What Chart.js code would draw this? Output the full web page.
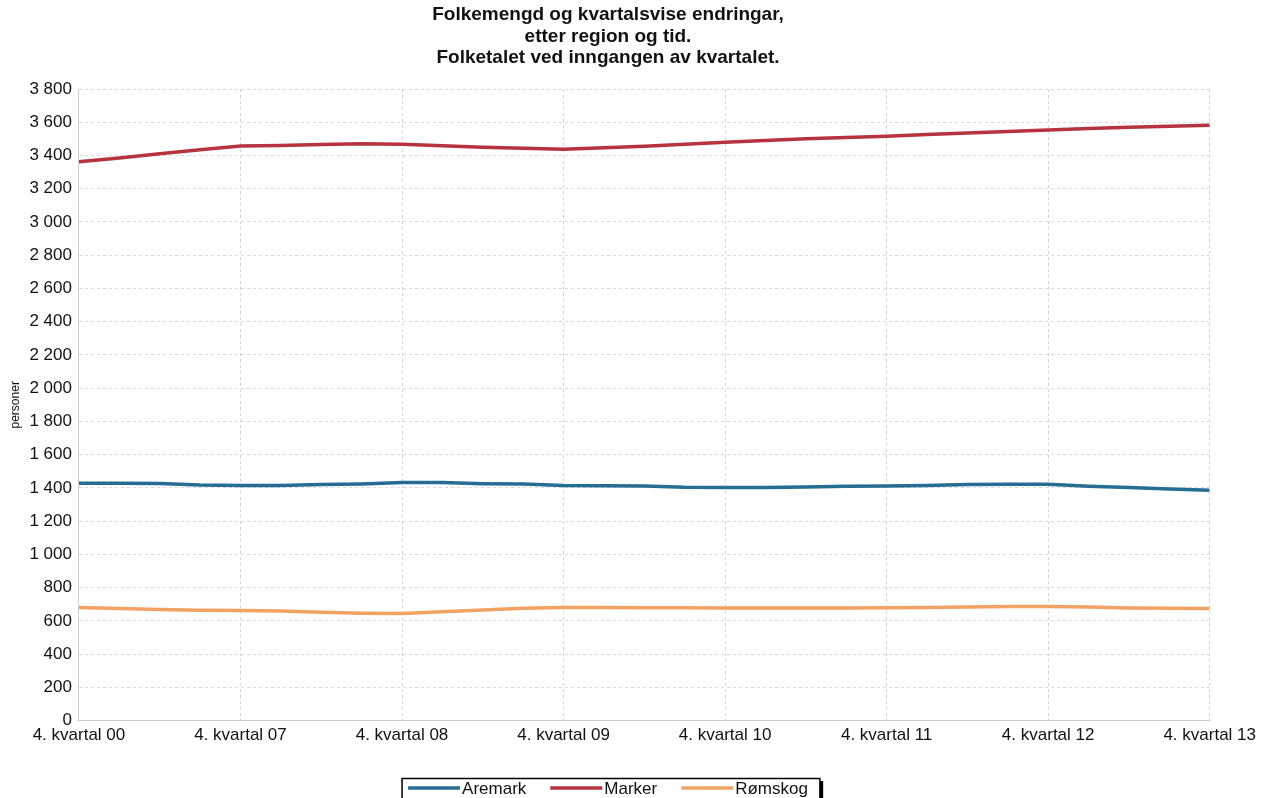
<!DOCTYPE html>
<html>
<head>
<meta charset="utf-8">
<script src="https://cdn.jsdelivr.net/npm/chart.js@4/dist/chart.umd.min.js"></script>
<style>
  html, body { margin: 0; padding: 0; background: #fff; }
  #wrap { width: 1261px; height: 798px; }
</style>
</head>
<body>
<div id="wrap"><canvas id="line-chart"></canvas></div>
<script>
// quarters: 4. kvartal 06 .. 4. kvartal 13 (first label printed as "00" in the source)
var quarters = [
  "4. kvartal 00", "1. kvartal 07", "2. kvartal 07", "3. kvartal 07",
  "4. kvartal 07", "1. kvartal 08", "2. kvartal 08", "3. kvartal 08",
  "4. kvartal 08", "1. kvartal 09", "2. kvartal 09", "3. kvartal 09",
  "4. kvartal 09", "1. kvartal 10", "2. kvartal 10", "3. kvartal 10",
  "4. kvartal 10", "1. kvartal 11", "2. kvartal 11", "3. kvartal 11",
  "4. kvartal 11", "1. kvartal 12", "2. kvartal 12", "3. kvartal 12",
  "4. kvartal 12", "1. kvartal 13", "2. kvartal 13", "3. kvartal 13",
  "4. kvartal 13"
];

var aremark = [1428, 1428, 1426, 1417, 1415, 1415, 1420, 1424, 1432, 1432,
  1425, 1423, 1415, 1413, 1412, 1404, 1402, 1402, 1406, 1410,
  1412, 1414, 1420, 1422, 1422, 1410, 1403, 1394, 1386];

var marker = [3362, 3385, 3410, 3435, 3457, 3460, 3466, 3470, 3467, 3458,
  3450, 3444, 3438, 3446, 3456, 3468, 3480, 3490, 3500, 3508,
  3516, 3526, 3536, 3545, 3553, 3562, 3570, 3576, 3582];

var romskog = [680, 675, 668, 664, 662, 660, 652, 646, 645, 655,
  666, 676, 680, 680, 679, 679, 678, 678, 678, 678,
  679, 680, 684, 686, 686, 684, 678, 676, 674];

var titleLines = ["Folkemengd og kvartalsvise endringar,", "etter region og tid.", "Folketalet ved inngangen av kvartalet."];

var fontFam = "'Liberation Sans', Arial, sans-serif";

function spaced(v) {
  return String(v).replace(/\B(?=(\d{3})+(?!\d))/g, " ");
}

function pts(arr) {
  return arr.map(function(v, i) { return { x: i, y: v }; });
}

// title and boxed legend, drawn like the old SSB chart
var decor = {
  id: "decor",
  afterDraw: function(chart) {
    var ctx = chart.ctx;
    var cx = 608;
    ctx.save();
    ctx.fillStyle = "#111";
    ctx.textAlign = "center";
    ctx.textBaseline = "middle";
    ctx.font = "bold 19px " + fontFam;
    titleLines.forEach(function(t, i) {
      ctx.fillText(t, cx, 15 + i * 21.5);
    });

    // legend
    var lineLen = 52, gap = 2, itemGap = 24;
    ctx.font = "17px " + fontFam;
    var items = chart.data.datasets.map(function(ds) {
      return { label: ds.label, color: ds.borderColor, w: lineLen + gap + ctx.measureText(ds.label).width };
    });
    var total = items.reduce(function(s, it) { return s + it.w; }, 0) + itemGap * (items.length - 1);
    var x = cx - total / 2;
    var y = 788;
    var boxL = x - 6, boxR = x + total + 12;
    ctx.strokeStyle = "#000";
    ctx.lineWidth = 1.5;
    ctx.strokeRect(boxL, 778.5, boxR - boxL, 24);
    ctx.lineWidth = 3.5;
    ctx.beginPath();
    ctx.moveTo(boxR + 1.5, 781);
    ctx.lineTo(boxR + 1.5, 798);
    ctx.stroke();
    ctx.textAlign = "left";
    items.forEach(function(it) {
      ctx.strokeStyle = it.color;
      ctx.lineWidth = 3.5;
      ctx.beginPath();
      ctx.moveTo(x, y);
      ctx.lineTo(x + lineLen, y);
      ctx.stroke();
      ctx.fillStyle = "#111";
      ctx.fillText(it.label, x + lineLen + gap, y + 1);
      x += it.w + itemGap;
    });
    ctx.restore();
  }
};

new Chart(document.getElementById("line-chart"), {
  type: "line",
  data: {
    datasets: [{
        data: pts(aremark),
        label: "Aremark",
        borderColor: "#266d94",
        borderWidth: 3.5,
        pointRadius: 0,
        fill: false
      }, {
        data: pts(marker),
        label: "Marker",
        borderColor: "#b7333f",
        borderWidth: 3.5,
        pointRadius: 0,
        fill: false
      }, {
        data: pts(romskog),
        label: "Rømskog",
        borderColor: "#f2a263",
        borderWidth: 3.5,
        pointRadius: 0,
        fill: false
      }
    ]
  },
  options: {
    responsive: true,
    maintainAspectRatio: false,
    animation: false,
    layout: { padding: { left: 8, right: 1, top: 89, bottom: 47 } },
    plugins: {
      title: { display: false },
      legend: { display: false },
      tooltip: { enabled: false }
    },
    scales: {
      x: {
        type: "linear",
        min: 0,
        max: quarters.length - 1,
        grid: { color: "#d4d4d4", drawTicks: false },
        border: { display: true, color: "#cccccc", dash: [3, 3] },
        ticks: {
          stepSize: 4,
          maxRotation: 0,
          padding: 5,
          color: "#111",
          font: { family: fontFam, size: 17 },
          callback: function(v) { return quarters[v]; }
        }
      },
      y: {
        min: 0,
        max: 3800,
        title: {
          display: true,
          text: "personer",
          color: "#111",
          font: { family: fontFam, size: 12 },
          padding: { top: 0, bottom: 0 }
        },
        grid: { color: "#dadada", drawTicks: false },
        border: { display: true, color: "#cccccc", dash: [3, 3] },
        ticks: {
          stepSize: 200,
          padding: 7,
          color: "#111",
          font: { family: fontFam, size: 17 },
          callback: function(v) { return spaced(v); }
        }
      }
    }
  },
  plugins: [decor]
});
</script>
</body>
</html>
